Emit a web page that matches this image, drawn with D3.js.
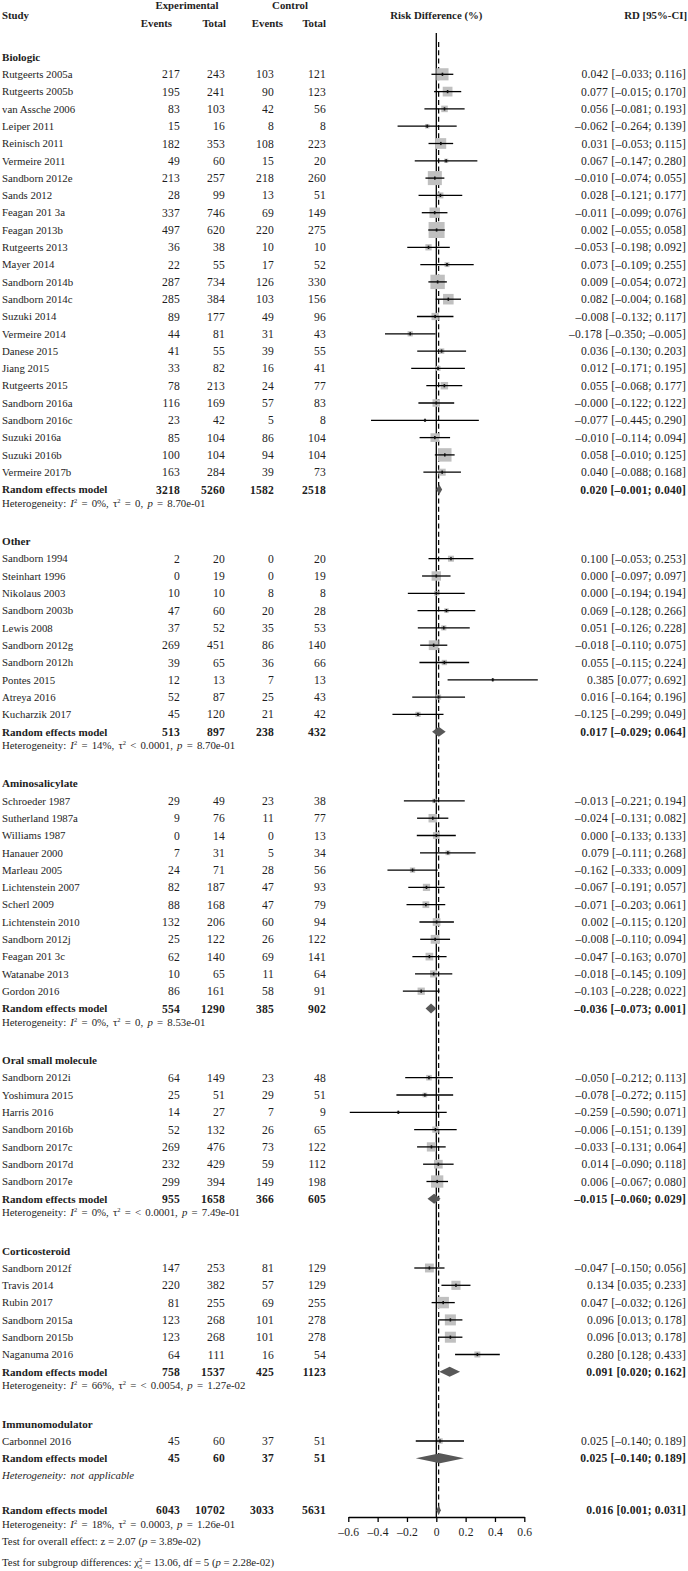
<!DOCTYPE html>
<html>
<head>
<meta charset="utf-8">
<script src="https://cdn.jsdelivr.net/npm/d3@7"></script>
<style>
  body { margin: 0; background: #fff; }
  svg text { font-family: "Liberation Serif", "Times New Roman", serif; font-size: 10.8px; fill: #1e1e1e; }
  svg text.num { font-size: 11.6px; letter-spacing: 0.2px; }
  svg text.head { font-size: 10.8px; font-weight: bold; }
  svg text.bold { font-size: 11.1px; font-weight: bold; }
  svg text.het { word-spacing: 1.5px; }
</style>
</head>
<body>
<svg id="chart" width="688" height="1571"></svg>
<script>
// subgroups and how many studies each has
const groups = ["Biologic", "Other", "Aminosalicylate", "Oral small molecule", "Corticosteroid", "Immunomodulator"];
const groupSizes = [24, 10, 12, 7, 6, 1];

const studies = [
  "Rutgeerts 2005a", "Rutgeerts 2005b", "van Assche 2006", "Leiper 2011", "Reinisch 2011", "Vermeire 2011",
  "Sandborn 2012e", "Sands 2012", "Feagan 201 3a", "Feagan 2013b", "Rutgeerts 2013", "Mayer 2014",
  "Sandborn 2014b", "Sandborn 2014c", "Suzuki 2014", "Vermeire 2014", "Danese 2015", "Jiang 2015",
  "Rutgeerts 2015", "Sandborn 2016a", "Sandborn 2016c", "Suzuki 2016a", "Suzuki 2016b", "Vermeire 2017b",
  "Sandborn 1994", "Steinhart 1996", "Nikolaus 2003", "Sandborn 2003b", "Lewis 2008", "Sandborn 2012g",
  "Sandborn 2012h", "Pontes 2015", "Atreya 2016", "Kucharzik 2017",
  "Schroeder 1987", "Sutherland 1987a", "Williams 1987", "Hanauer 2000", "Marleau 2005", "Lichtenstein 2007",
  "Scherl 2009", "Lichtenstein 2010", "Sandborn 2012j", "Feagan 201 3c", "Watanabe 2013", "Gordon 2016",
  "Sandborn 2012i", "Yoshimura 2015", "Harris 2016", "Sandborn 2016b", "Sandborn 2017c", "Sandborn 2017d", "Sandborn 2017e",
  "Sandborn 2012f", "Travis 2014", "Rubin 2017", "Sandborn 2015a", "Sandborn 2015b", "Naganuma 2016",
  "Carbonnel 2016"
];
const expEvents = [217,195,83,15,182,49,213,28,337,497,36,22,287,285,89,44,41,33,78,116,23,85,100,163,
  2,0,10,47,37,269,39,12,52,45,
  29,9,0,7,24,82,88,132,25,62,10,86,
  64,25,14,52,269,232,299,
  147,220,81,123,123,64,
  45];
const expTotal = [243,241,103,16,353,60,257,99,746,620,38,55,734,384,177,81,55,82,213,169,42,104,104,284,
  20,19,10,60,52,451,65,13,87,120,
  49,76,14,31,71,187,168,206,122,140,65,161,
  149,51,27,132,476,429,394,
  253,382,255,268,268,111,
  60];
const ctrlEvents = [103,90,42,8,108,15,218,13,69,220,10,17,126,103,49,31,39,16,24,57,5,86,94,39,
  0,0,8,20,35,86,36,7,25,21,
  23,11,0,5,28,47,47,60,26,69,11,58,
  23,29,7,26,73,59,149,
  81,57,69,101,101,16,
  37];
const ctrlTotal = [121,123,56,8,223,20,260,51,149,275,10,52,330,156,96,43,55,41,77,83,8,104,104,73,
  20,19,8,28,53,140,66,13,43,42,
  38,77,13,34,56,93,79,94,122,141,64,91,
  48,51,9,65,122,112,198,
  129,129,255,278,278,54,
  51];
const rd = [0.042,0.077,0.056,-0.062,0.031,0.067,-0.010,0.028,-0.011,0.002,-0.053,0.073,0.009,0.082,-0.008,-0.178,0.036,0.012,0.055,-0.0004,-0.077,-0.010,0.058,0.040,
  0.100,0.000,0.000,0.069,0.051,-0.018,0.055,0.385,0.016,-0.125,
  -0.013,-0.024,0.000,0.079,-0.162,-0.067,-0.071,0.002,-0.008,-0.047,-0.018,-0.103,
  -0.050,-0.078,-0.259,-0.006,-0.033,0.014,0.006,
  -0.047,0.134,0.047,0.096,0.096,0.280,
  0.025];
const rdLow = [-0.033,-0.015,-0.081,-0.264,-0.053,-0.147,-0.074,-0.121,-0.099,-0.055,-0.198,-0.109,-0.054,-0.004,-0.132,-0.350,-0.130,-0.171,-0.068,-0.122,-0.445,-0.114,-0.010,-0.088,
  -0.053,-0.097,-0.194,-0.128,-0.126,-0.110,-0.115,0.077,-0.164,-0.299,
  -0.221,-0.131,-0.133,-0.111,-0.333,-0.191,-0.203,-0.115,-0.110,-0.163,-0.145,-0.228,
  -0.212,-0.272,-0.590,-0.151,-0.131,-0.090,-0.067,
  -0.150,0.035,-0.032,0.013,0.013,0.128,
  -0.140];
const rdHigh = [0.116,0.170,0.193,0.139,0.115,0.280,0.055,0.177,0.076,0.058,0.092,0.255,0.072,0.168,0.117,-0.005,0.203,0.195,0.177,0.122,0.290,0.094,0.125,0.168,
  0.253,0.097,0.194,0.266,0.228,0.075,0.224,0.692,0.196,0.049,
  0.194,0.082,0.133,0.268,0.009,0.057,0.061,0.120,0.094,0.070,0.109,0.022,
  0.113,0.115,0.071,0.139,0.064,0.118,0.080,
  0.056,0.233,0.126,0.178,0.178,0.433,
  0.189];
// study weights (relative)
const weights = [45,29,13,6.2,35,5.5,60,11,33,78,12,7.5,63,34,16,8.4,9,7.5,17,17,1.9,23,55,15,
  11,27,6.6,6.4,8,29,8.7,2.6,7.7,8.3,
  5.8,22,14,7,8.5,16,14,18,24,18,15.5,16,
  9.5,6.7,2.3,12,26,23,46,
  24,25.5,40,37,37,11,
  9.2];

// random effects model per subgroup
const reExpEvents = [3218, 513, 554, 955, 758, 45];
const reExpTotal = [5260, 897, 1290, 1658, 1537, 60];
const reCtrlEvents = [1582, 238, 385, 366, 425, 37];
const reCtrlTotal = [2518, 432, 902, 605, 1123, 51];
const reRd = [0.020, 0.017, -0.036, -0.015, 0.091, 0.025];
const reLow = [-0.001, -0.029, -0.073, -0.060, 0.020, -0.140];
const reHigh = [0.040, 0.064, 0.001, 0.029, 0.162, 0.189];
const hetI2 = ["0%", "14%", "0%", "0%", "66%", null];
const hetTau = ["= 0", "< 0.0001", "= 0", "= < 0.0001", "= < 0.0054", null];
const hetP = ["8.70e-01", "8.70e-01", "8.53e-01", "7.49e-01", "1.27e-02", null];

// overall
const overallCounts = [6043, 10702, 3033, 5631];
const overallRd = [0.016, 0.001, 0.031];
const overallHet = ["18%", "= 0.0003", "1.26e-01"];
const overallZ = ["2.07", "3.89e-02"];
const subgroupTest = ["13.06", "5", "2.28e-02"];

const axisTicks = [-0.6, -0.4, -0.2, 0, 0.2, 0.4, 0.6];

// ---------------------------------------------------------------
const svg = d3.select("#chart");
const fmt = v => (v < 0 ? "–" : "") + Math.abs(v).toFixed(3);
const ciText = (e, l, h) => `${fmt(e)} [${fmt(l)}; ${fmt(h)}]`;
const minus = v => v === 0 ? "0" : (v < 0 ? "–" : "") + Math.abs(v);

// build rows
const rows = [];
let k = 0;
groups.forEach((g, gi) => {
  rows.push({ type: "group", gi });
  for (let j = 0; j < groupSizes[gi]; j++) rows.push({ type: "study", si: k++, gi });
  rows.push({ type: "re", gi });
  rows.push({ type: "het", gi });
  rows.push({ type: "blank" });
});
rows.push({ type: "overall" }, { type: "ohet" }, { type: "ztest" }, { type: "subtest" });
rows.forEach((r, i) => r.i = i);

const rowH = 17.3;
const y = d3.scaleLinear().domain([0, rows.length - 1]).range([57, 57 + (rows.length - 1) * rowH]);
const x = d3.scaleLinear().domain([-0.6, 0.6]).range([348.3, 524.3]);
const side = d3.scaleSqrt().domain([0, d3.max(weights)]).range([0, 16]);

const colX = { expEv: 180, expTot: 225, ctrlEv: 274, ctrlTot: 326, rd: 686 };

// header
const head = svg.append("g");
const hText = (t, xx, yy, anchor) => head.append("text").attr("class", "head")
  .attr("x", xx).attr("y", yy).attr("dy", "0.35em").attr("text-anchor", anchor).text(t);
hText("Study", 2, 15, "start");
hText("Experimental", 187, 5, "middle");
hText("Control", 290, 5, "middle");
[["Events", 172], ["Total", 226], ["Events", 283], ["Total", 326]].forEach(([t, xx]) => hText(t, xx, 23, "end"));
hText("Risk Difference (%)", x(0), 15, "middle");
hText("RD [95%-CI]", 687, 15, "end");

// reference lines
const axisY = 1517;
svg.append("line").attr("x1", x(0)).attr("x2", x(0)).attr("y1", 33).attr("y2", axisY)
  .attr("stroke", "#000").attr("stroke-width", 1.3);
svg.append("line").attr("x1", x(overallRd[0])).attr("x2", x(overallRd[0])).attr("y1", 42).attr("y2", 1511)
  .attr("stroke", "#000").attr("stroke-width", 1.2).attr("stroke-dasharray", "5,3.3");

// rich text helper: parts = ["text", {i:'p'}, {sup:'2'}]
function rich(sel, parts) {
  let shift = 0;
  parts.forEach(p => {
    const t = sel.append("tspan");
    if (typeof p === "string") { t.text(p).attr("dy", -shift); shift = 0; }
    else if (p.i) { t.text(p.i).attr("font-style", "italic").attr("dy", -shift); shift = 0; }
    else if (p.sup) { t.text(p.sup).attr("font-size", "6.5px").attr("dy", -4); shift = -4; }
  });
}
function hetParts(i2, tau, p) {
  return ["Heterogeneity: ", { i: "I" }, { sup: "2" }, ` = ${i2}, τ`, { sup: "2" }, ` ${tau}, `, { i: "p" }, ` = ${p}`];
}

function diamond(yy, e, l, h) {
  const hh = 5;
  svg.append("path")
    .attr("d", `M${x(l)},${yy}L${x(e)},${yy - hh}L${x(h)},${yy}L${x(e)},${yy + hh}Z`)
    .attr("fill", "#585858");
}

function counts(g, vals, bold) {
  [colX.expEv, colX.expTot, colX.ctrlEv, colX.ctrlTot].forEach((cx, j) =>
    g.append("text").attr("class", "num").attr("x", cx).attr("dy", "0.35em").attr("text-anchor", "end")
      .attr("font-weight", bold ? "bold" : null).text(vals[j]));
}
function rdLabel(g, txt, bold) {
  g.append("text").attr("class", "num").attr("x", 686).attr("dy", "0.35em").attr("text-anchor", "end")
    .attr("font-weight", bold ? "bold" : null).text(txt);
}

const body = svg.selectAll("g.row").data(rows).join("g")
  .attr("class", "row").attr("transform", d => `translate(0,${y(d.i)})`);

body.each(function (d) {
  const g = d3.select(this);
  const yy = y(d.i);
  if (d.type === "group") {
    g.append("text").attr("class", "bold").attr("x", 2).attr("dy", "0.35em").text(groups[d.gi]);
  } else if (d.type === "study") {
    const s = d.si;
    g.append("text").attr("x", 2).attr("dy", "0.35em").text(studies[s]);
    counts(g, [expEvents[s], expTotal[s], ctrlEvents[s], ctrlTotal[s]], false);
    rdLabel(g, ciText(rd[s], rdLow[s], rdHigh[s]), false);
    const w = side(weights[s]);
    svg.append("rect").attr("x", x(rd[s]) - w / 2).attr("y", yy - w / 2).attr("width", w).attr("height", w).attr("fill", "#c0c0c0");
    svg.append("line").attr("x1", x(rdLow[s])).attr("x2", x(rdHigh[s])).attr("y1", yy).attr("y2", yy)
      .attr("stroke", "#000").attr("stroke-width", 1.3);
    svg.append("rect").attr("x", x(rd[s]) - 0.8).attr("y", yy - 1.6).attr("width", 1.6).attr("height", 3.2).attr("fill", "#111");
  } else if (d.type === "re") {
    const gi = d.gi;
    g.append("text").attr("class", "bold").attr("x", 2).attr("dy", "0.35em").text("Random effects model");
    counts(g, [reExpEvents[gi], reExpTotal[gi], reCtrlEvents[gi], reCtrlTotal[gi]], true);
    rdLabel(g, ciText(reRd[gi], reLow[gi], reHigh[gi]), true);
    diamond(yy, reRd[gi], reLow[gi], reHigh[gi]);
  } else if (d.type === "het") {
    const t = g.append("text").attr("class", "het").attr("x", 2).attr("dy", "0.35em");
    if (hetI2[d.gi] === null) {
      t.attr("font-style", "italic").text("Heterogeneity: not applicable");
    } else rich(t, hetParts(hetI2[d.gi], hetTau[d.gi], hetP[d.gi]));
  } else if (d.type === "overall") {
    g.append("text").attr("class", "bold").attr("x", 2).attr("dy", "0.35em").text("Random effects model");
    counts(g, overallCounts, true);
    rdLabel(g, ciText(overallRd[0], overallRd[1], overallRd[2]), true);
    diamond(yy, overallRd[0], overallRd[1], overallRd[2]);
  } else if (d.type === "ohet") {
    rich(g.append("text").attr("class", "het").attr("x", 2).attr("dy", "0.35em"),
      hetParts(overallHet[0], overallHet[1], overallHet[2]));
  } else if (d.type === "ztest") {
    rich(g.append("text").attr("x", 2).attr("dy", "0.35em"),
      [`Test for overall effect: z = ${overallZ[0]} (`, { i: "p" }, ` = ${overallZ[1]})`]);
  } else if (d.type === "subtest") {
    const t = g.append("text").attr("x", 2).attr("dy", "0.35em");
    t.append("tspan").text("Test for subgroup differences:  χ");
    t.append("tspan").attr("font-size", "6.5px").attr("dy", -4).text("2");
    t.append("tspan").attr("font-size", "6.5px").attr("dx", -3.3).attr("dy", 7).text(subgroupTest[1]);
    t.append("tspan").attr("dy", -3).text(` = ${subgroupTest[0]}, df = ${subgroupTest[1]} (`);
    t.append("tspan").attr("font-style", "italic").text("p");
    t.append("tspan").text(` = ${subgroupTest[2]})`);
  }
});

// x axis
const axis = svg.append("g").attr("transform", `translate(0,${axisY})`)
  .call(d3.axisBottom(x).tickValues(axisTicks).tickFormat(minus).tickSize(5).tickSizeOuter(0).tickPadding(6));
axis.select(".domain").attr("stroke", "#000").attr("stroke-width", 1.3);
axis.selectAll(".tick line").attr("stroke", "#000").attr("stroke-width", 1.3);
axis.selectAll(".tick text").attr("class", "num");
</script>
</body>
</html>
